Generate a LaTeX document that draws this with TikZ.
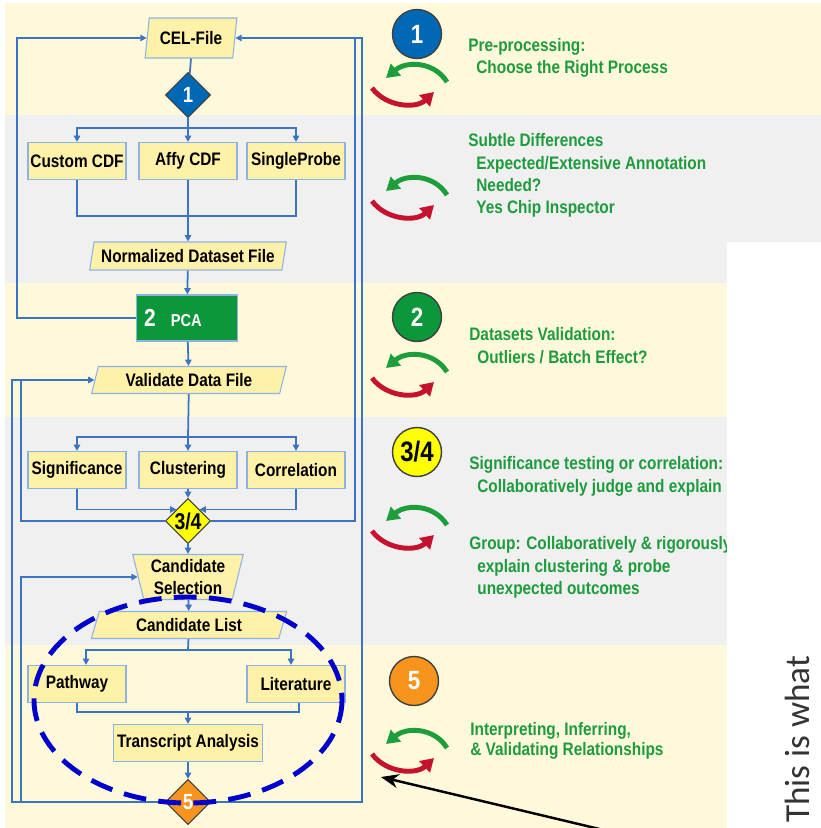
\documentclass[tikz,border=0pt]{standalone}
\usepackage{fontspec}
\setmainfont{Liberation Sans}[FakeStretch=0.85]
\newfontfamily\scanfont{Carlito}
\usetikzlibrary{positioning,shapes.geometric,arrows.meta}

\definecolor{bandyellow}{HTML}{FFF9DC}
\definecolor{bandgray}{HTML}{F0F0F0}
\definecolor{boxfill}{HTML}{FFF1A8}
\definecolor{boxline}{HTML}{8DB3E2}
\definecolor{flowblue}{HTML}{3B74C1}
\definecolor{stepblue}{HTML}{0068B4}
\definecolor{stepgreen}{HTML}{0B973A}
\definecolor{stepyellow}{HTML}{FFFF00}
\definecolor{steporange}{HTML}{F7941D}
\definecolor{notegreen}{HTML}{1E9B3C}
\definecolor{loopgreen}{HTML}{1E9E3A}
\definecolor{loopred}{HTML}{C4122F}
\definecolor{ringblue}{HTML}{0000CC}

\tikzset{
  flow/.style={draw=flowblue, line width=1pt},
  flowtip/.style={flow, -{Triangle[length=3.6pt,width=3.6pt]}},
  stepbox/.style={rectangle, draw=boxline, fill=boxfill, line width=0.6pt,
    minimum width=1.96cm, minimum height=0.74cm, inner sep=1pt,
    font=\bfseries\fontsize{10.3}{12.5}\selectfont},
  filebox/.style 2 args={stepbox, trapezium, trapezium stretches=true,
    trapezium left angle=#1, trapezium right angle=#2},
  gate/.style={diamond, draw=black!75, line width=0.6pt, fill=#1,
    minimum width=0.9cm, minimum height=0.9cm, inner sep=0pt,
    font=\bfseries\fontsize{12.5}{12.5}\selectfont},
  badge/.style={circle, draw=black!75, line width=0.8pt, fill=#1,
    minimum size=0.98cm, inner sep=0pt,
    font=\bfseries\fontsize{15}{15}\selectfont},
  note/.style={anchor=base west, inner sep=0pt, text=notegreen,
    font=\bfseries\fontsize{10.3}{12.5}\selectfont},
  loops/.pic={
    \draw[loopgreen, line width=2.8pt, -{Triangle[length=7.4pt,width=8.6pt]}]
      (37,-3) .. controls (24,-24) and (-4,-24) .. (-24,-7);
    \draw[loopred, line width=2.8pt, -{Triangle[length=7.4pt,width=8.6pt]}]
      (-38,3) .. controls (-24,22) and (6,24) .. (24,7);
  }
}

\begin{document}
\begin{tikzpicture}[x=0.02cm, y=-0.02cm]
    \useasboundingbox (0,0) rectangle (821,828);
    % bands
    \fill[bandyellow] (5,3) rectangle (821,115);
    \fill[bandgray] (5,115) rectangle (821,283);
    \fill[bandyellow] (5,283) rectangle (821,417);
    \fill[bandgray] (5,417) rectangle (821,645);
    \fill[bandyellow] (5,645) rectangle (821,828);

    % flow chart
    \node[filebox={79}{101}, minimum width=1.84cm, minimum height=0.8cm] (cel) at (191,38) {CEL-File};
    \node[gate=stepblue, text=white] (d1) at (188,95) {1};
    \node[stepbox] (custom) at (77,161) {Custom CDF};
    \node[stepbox] (affy) at (188,161) {Affy CDF};
    \node[stepbox] (single) at (296,161) {SingleProbe};
    \node[filebox={76}{104}, minimum width=3.94cm, minimum height=0.56cm] (norm) at (188,256) {Normalized Dataset File};
    \node[stepbox, fill=stepgreen, text=white, minimum width=2.02cm, minimum height=0.92cm] (pca) at (187,318)
        {{\fontsize{14}{14}\selectfont 2}\hspace{0.3cm}{\fontsize{9.8}{12}\selectfont PCA}\hspace*{0.56cm}};
    \node[filebox={74}{106}, minimum width=3.92cm, minimum height=0.54cm] (valid) at (189,380) {Validate Data File};
    \node[stepbox] (signif) at (77,470) {Significance};
    \node[stepbox] (clust) at (188,470) {Clustering};
    \node[stepbox] (correl) at (296,470) {Correlation};
    \node[gate=stepyellow, text=black, font=\bfseries\fontsize{13}{13}\selectfont] (d34) at (188,521) {3/4};
    \node[filebox={76}{76}, shape border rotate=180, minimum width=2.22cm, minimum height=0.9cm, align=center] (csel) at (188,577) {Candidate\\Selection};
    \node[filebox={74}{106}, minimum width=3.92cm, minimum height=0.54cm] (clist) at (189,625) {Candidate List};
    \node[stepbox] (path) at (77,684) {Pathway};
    \node[stepbox] (lit) at (296,684) {Literature};
    \node[stepbox, minimum width=2.98cm] (trans) at (188,743) {Transcript Analysis};
    \node[gate=steporange, text=white] (d5) at (188,802) {5};

    \coordinate (fork1) at (188,128);
    \coordinate (join1) at (188,216);
    \coordinate (fork2) at (188,437);
    \coordinate (fork3) at (188,650);
    \coordinate (join3) at (188,712);
    \coordinate (backL1) at (17,38);
    \coordinate (backL2) at (21,380);
    \coordinate (backL3) at (12,380);
    \coordinate (backL4) at (21,577);
    \coordinate (backR1) at (355,38);
    \coordinate (backR2) at (362,38);

    \draw[flow] (cel.south) -- (d1);
    \draw[flow] (d1) -- (fork1);
    \draw[flowtip] (fork1) -| (custom);
    \draw[flowtip] (fork1) -- (affy);
    \draw[flowtip] (fork1) -| (single);
    \draw[flow] (custom) |- (join1) -| (single);
    \draw[flowtip] (affy) -- (norm);
    \draw[flowtip] (norm) -- (pca);
    \draw[flowtip] (pca) -| (backL1) -- (cel);
    \draw[flowtip] (pca) -- (valid);
    \draw[flow] (valid) -- (fork2);
    \draw[flowtip] (fork2) -| (signif);
    \draw[flowtip] (fork2) -- (clust);
    \draw[flowtip] (fork2) -| (correl);
    \draw[flowtip] (signif) |- (d34.north west);
    \draw[flowtip] (correl) |- (d34.north east);
    \draw[flowtip] (clust) -- (d34);
    \draw[flowtip] (d34) -| (backR1) -- (cel);
    \draw[flowtip] (d34) -| (backL2) -- (valid);
    \draw[flowtip] (d34) -- (csel);
    \draw[flowtip] (csel) -- (clist);
    \draw[flow] (clist) -- (fork3);
    \draw[flowtip] (fork3) -| ([xshift=0.18cm]path.north);
    \draw[flowtip] (fork3) -| ([xshift=-0.1cm]lit.north);
    \draw[flow] (path) |- (join3) -| ([xshift=0.06cm]lit.south);
    \draw[flowtip] (join3) -- (trans);
    \draw[flowtip] (trans) -- (d5);
    \draw[flow] (d5) -| (backR2) -- (backR1);
    \draw[flow] (d5) -| (backL3) -- (backL2);
    \draw[flowtip] (d5) -| (backL4) -- (csel);

    % marked part
    \draw[ringblue, line width=2.8pt, dash pattern=on 13pt off 7pt] (188,700) ellipse [x radius=154, y radius=103];

    % steps on the right
    \node[badge=stepblue, text=white] (b1) at (417,34) {1};
    \node[badge=stepgreen, text=white] (b2) at (417,317) {2};
    \node[badge=stepyellow, text=black, font=\bfseries\fontsize{16}{16}\selectfont] (b34) at (417,452) {3/4};
    \node[badge=steporange, text=white] (b5) at (414,681) {5};
    \pic (r1) at (410,85) {loops};
    \pic (r2) at (410,198) {loops};
    \pic (r3) at (410,375) {loops};
    \pic (r4) at (410,528) {loops};
    \pic (r5) at (410,751) {loops};

    \node[note] (preA) at (468,52) {Pre-processing:};
    \node[note] (preB) at (476,74) {Choose the Right Process};
    \node[note] (subA) at (468,146) {Subtle Differences};
    \node[note] (subB) at (476,169) {Expected/Extensive Annotation};
    \node[note] (subC) at (476,191) {Needed?};
    \node[note] (subD) at (476,213) {Yes Chip Inspector};
    \node[note] (valA) at (469,340) {Datasets Validation:};
    \node[note] (valB) at (477,363) {Outliers / Batch Effect?};
    \node[note] (sigA) at (469,469) {Significance testing or correlation:};
    \node[note] (sigB) at (477,492) {Collaboratively judge and explain};
    \node[note] (grpA) at (469,549) {Group: Collaboratively \& rigorously};
    \node[note] (grpB) at (477,572) {explain clustering \& probe};
    \node[note] (grpC) at (477,594) {unexpected outcomes};
    \node[note] (intA) at (470,735) {Interpreting, Inferring,};
    \node[note] (intB) at (470,755) {\& Validating Relationships};

    % pasted page on the right
    \fill[white] (727,242) rectangle (822,829);
    \node[rotate=90, anchor=base west, inner sep=0pt, text=black!80, font=\scanfont\fontsize{20}{20}\selectfont] (scan) at (809,823) {This is what};

    \coordinate (ptrfoot) at (612,832);
    \coordinate (ptrhead) at (381,777);
    \draw[line width=1.4pt, -{Stealth[length=10pt,width=8pt]}] (ptrfoot) -- (ptrhead);
\end{tikzpicture}
\end{document}
